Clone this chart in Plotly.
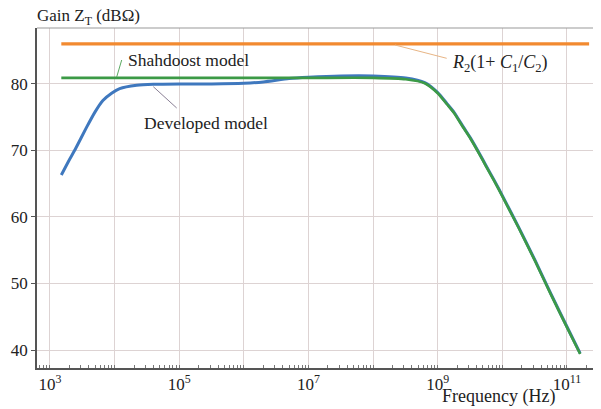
import plotly.graph_objects as go

# frequencies (Hz) and gains (dBOhm)
freq_dev = [1.5e3, 2e3, 2.5e3, 3.7e3, 5e3, 6.6e3, 9e3, 1.2e4, 2.2e4, 4e4,
            1e5, 3.2e5, 1e6, 2e6, 5e6, 1e7, 3.2e7, 1e8, 3.2e8, 6.3e8,
            1e9, 1.4e9, 1.8e9, 2.5e9, 3.2e9, 4.5e9, 5.6e9, 7.5e9, 1e10, 1.8e10,
            3.2e10, 5.6e10, 1e11, 1.6e11]
gain_dev = [66.3, 68.6, 70.3, 73.5, 75.8, 77.5, 78.6, 79.3, 79.8, 79.95,
            80.0, 80.0, 80.1, 80.3, 80.8, 81.0, 81.2, 81.2, 80.9, 80.2,
            78.7, 77.0, 75.7, 73.5, 71.9, 69.4, 67.7, 65.5, 63.2, 58.4,
            53.5, 48.5, 43.5, 39.5]

freq_sha = [1.5e3, 1e5, 1e7, 1e8, 3.2e8, 6.3e8, 1e9, 1.4e9, 1.8e9, 2.5e9,
            3.2e9, 4.5e9, 5.6e9, 7.5e9, 1e10, 1.8e10, 3.2e10, 5.6e10, 1e11, 1.6e11]
gain_sha = [80.9, 80.9, 80.9, 80.9, 80.7, 80.1, 78.6, 76.9, 75.6, 73.4,
            71.8, 69.3, 67.6, 65.4, 63.1, 58.3, 53.4, 48.4, 43.4, 39.4]

freq_r2 = [1.5e3, 2.2e11]
gain_r2 = [86.0, 86.0]

x_ticks = [1e3, 1e4, 1e5, 1e6, 1e7, 1e8, 1e9, 1e10, 1e11]
x_text = ["10<sup>3</sup>", "", "10<sup>5</sup>", "", "10<sup>7</sup>", "",
          "10<sup>9</sup>", "", "10<sup>11</sup>"]
y_ticks = [40, 50, 60, 70, 80]

serif = "Liberation Serif"
blue = "#3F78BE"
green = "#3C9A46"
orange = "#F28A30"

fig = go.Figure()
fig.add_trace(go.Scatter(x=freq_r2, y=gain_r2, mode="lines",
                         line=dict(color=orange, width=3.2)))
fig.add_trace(go.Scatter(x=freq_dev, y=gain_dev, mode="lines",
                         line=dict(color=blue, width=3, shape="spline", smoothing=0.6)))
fig.add_trace(go.Scatter(x=freq_sha, y=gain_sha, mode="lines",
                         line=dict(color=green, width=2.6, shape="spline", smoothing=0.6)))

grid = "#DDD3D3"
fig.update_xaxes(type="log", range=[2.8, 11.48], tickvals=x_ticks, ticktext=x_text,
                 showgrid=True, gridcolor=grid, gridwidth=1, zeroline=False,
                 showline=True, linecolor="#555", linewidth=1.5, ticks="",
                 automargin=False,
                 minor=dict(ticks="inside", ticklen=3, tickcolor="#777", dtick="D1",
                            showgrid=False),
                 tickfont=dict(family=serif, size=17, color="#222"))
fig.update_yaxes(range=[37.3, 88.4], tickvals=y_ticks, showgrid=True, gridcolor=grid,
                 gridwidth=1, zeroline=False, showline=True, linecolor="#555",
                 linewidth=1.5, ticks="outside", ticklen=4, tickcolor="#555",
                 automargin=False,
                 tickfont=dict(family=serif, size=17, color="#222"))

fig.add_shape(type="line", xref="paper", yref="paper", x0=0, x1=1, y0=1, y1=1,
              line=dict(color="#999", width=1.2))

anns = [
    dict(x=-0.004, y=1.033, xref="paper", yref="paper", xanchor="left", yanchor="middle",
         text="Gain Z<sub>T</sub> (dBΩ)", font=dict(size=17)),
    dict(x=0.8235, y=-0.085, xref="paper", yref="paper", xanchor="center", yanchor="middle",
         text="Frequency (Hz)", font=dict(size=18)),
    dict(x=0.158, y=0.905, xref="paper", yref="paper", xanchor="left", yanchor="middle",
         text="Shahdoost model", font=dict(size=17.5)),
    dict(x=0.188, y=0.72, xref="paper", yref="paper", xanchor="left", yanchor="middle",
         text="Developed model", font=dict(size=17.5)),
    dict(x=0.736, y=0.896, xref="paper", yref="paper", xanchor="left", yanchor="middle",
         text="<i>R</i><sub>2</sub>(1+ <i>C</i><sub>1</sub>/<i>C</i><sub>2</sub>)",
         font=dict(size=18)),
]
for a in anns:
    a["showarrow"] = False
    a["font"]["family"] = serif
    a["font"]["color"] = "#222"
    fig.add_annotation(**a)

# leader lines, positions given in page pixels
def paper_x(px):
    return (px - 37) / (598 - 37)

def paper_y(py):
    return (368 - py) / (368 - 28)

leaders = [
    (121.7, 60, 116.7, 77, "#5BAA62"),
    (153.3, 86.7, 176.7, 108, "#8A7F95"),
    (395, 45, 446.7, 58.3, "#E8B585"),
]
for x0, y0, x1, y1, c in leaders:
    fig.add_shape(type="line", xref="paper", yref="paper",
                  x0=paper_x(x0), y0=paper_y(y0), x1=paper_x(x1), y1=paper_y(y1),
                  line=dict(color=c, width=1))

# page body keeps an 8px margin, so the figure is 8px smaller each way
fig.update_layout(width=593, height=401, showlegend=False,
                  margin=dict(l=29, r=3, t=20, b=41),
                  plot_bgcolor="white", paper_bgcolor="white",
                  font=dict(family=serif))

fig.write_html("out.html")
